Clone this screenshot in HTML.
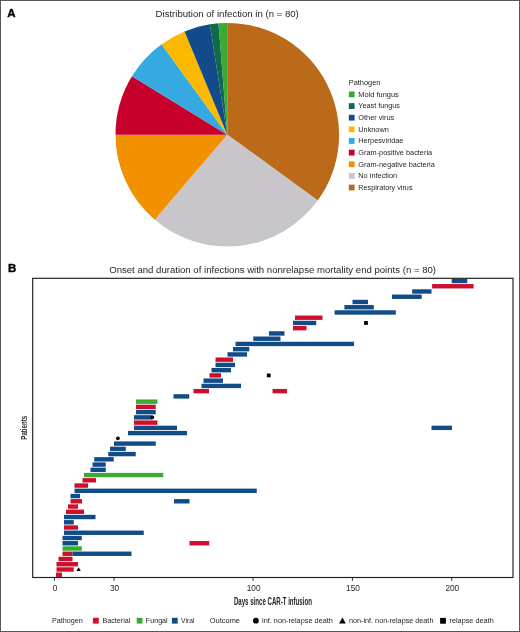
<!DOCTYPE html>
<html><head><meta charset="utf-8"><style>
html,body{margin:0;padding:0;background:#fff;width:520px;height:632px;overflow:hidden;}
svg{display:block;font-family:"Liberation Sans",sans-serif;will-change:transform;}
</style></head><body>
<svg width="520" height="632" viewBox="0 0 520 632" font-family="Liberation Sans, sans-serif">
<rect x="0" y="0" width="520" height="632" fill="#fff"/>
<text x="7.2" y="17" font-size="11.5" font-weight="bold" fill="#000" stroke="#000" stroke-width="0.35">A</text>
<text x="155.6" y="17.1" font-size="9.7" fill="#1f1f1f" textLength="143.2" lengthAdjust="spacingAndGlyphs">Distribution of infection in (n = 80)</text>
<path d="M227.30,134.70 L227.30,22.90 A111.8,111.8 0 0 1 317.75,200.41 Z" fill="#BA6A18"/>
<path d="M227.30,134.70 L317.75,200.41 A111.8,111.8 0 0 1 154.69,219.71 Z" fill="#C8C6CB"/>
<path d="M227.30,134.70 L154.69,219.71 A111.8,111.8 0 0 1 115.50,134.70 Z" fill="#F29100"/>
<path d="M227.30,134.70 L115.50,134.70 A111.8,111.8 0 0 1 131.97,76.28 Z" fill="#C6002B"/>
<path d="M227.30,134.70 L131.97,76.28 A111.8,111.8 0 0 1 161.59,44.25 Z" fill="#36A9E1"/>
<path d="M227.30,134.70 L161.59,44.25 A111.8,111.8 0 0 1 184.52,31.41 Z" fill="#FBBA00"/>
<path d="M227.30,134.70 L184.52,31.41 A111.8,111.8 0 0 1 209.81,24.28 Z" fill="#134A8A"/>
<path d="M227.30,134.70 L209.81,24.28 A111.8,111.8 0 0 1 218.53,23.24 Z" fill="#0E6A4C"/>
<path d="M227.30,134.70 L218.53,23.24 A111.8,111.8 0 0 1 227.30,22.90 Z" fill="#3AAA35"/>
<text x="348.7" y="85.2" font-size="7.6" fill="#1f1f1f" textLength="31.7" lengthAdjust="spacingAndGlyphs">Pathogen</text>
<rect x="348.8" y="91.50" width="5.8" height="5.8" fill="#3AAA35"/>
<text x="358.3" y="96.80" font-size="7.6" fill="#1f1f1f" textLength="40.5" lengthAdjust="spacingAndGlyphs">Mold fungus</text>
<rect x="348.8" y="103.14" width="5.8" height="5.8" fill="#0E6A4C"/>
<text x="358.3" y="108.44" font-size="7.6" fill="#1f1f1f" textLength="41.7" lengthAdjust="spacingAndGlyphs">Yeast fungus</text>
<rect x="348.8" y="114.78" width="5.8" height="5.8" fill="#134A8A"/>
<text x="358.3" y="120.08" font-size="7.6" fill="#1f1f1f" textLength="35.9" lengthAdjust="spacingAndGlyphs">Other virus</text>
<rect x="348.8" y="126.42" width="5.8" height="5.8" fill="#FBBA00"/>
<text x="358.3" y="131.72" font-size="7.6" fill="#1f1f1f" textLength="30.5" lengthAdjust="spacingAndGlyphs">Unknown</text>
<rect x="348.8" y="138.06" width="5.8" height="5.8" fill="#36A9E1"/>
<text x="358.3" y="143.36" font-size="7.6" fill="#1f1f1f" textLength="45.1" lengthAdjust="spacingAndGlyphs">Herpesviridae</text>
<rect x="348.8" y="149.70" width="5.8" height="5.8" fill="#C6002B"/>
<text x="358.3" y="155.00" font-size="7.6" fill="#1f1f1f" textLength="73.8" lengthAdjust="spacingAndGlyphs">Gram-positive bacteria</text>
<rect x="348.8" y="161.34" width="5.8" height="5.8" fill="#F29100"/>
<text x="358.3" y="166.64" font-size="7.6" fill="#1f1f1f" textLength="76.5" lengthAdjust="spacingAndGlyphs">Gram-negative bacteria</text>
<rect x="348.8" y="172.98" width="5.8" height="5.8" fill="#C8C6CB"/>
<text x="358.3" y="178.28" font-size="7.6" fill="#1f1f1f" textLength="38.9" lengthAdjust="spacingAndGlyphs">No infection</text>
<rect x="348.8" y="184.62" width="5.8" height="5.8" fill="#BA6A18"/>
<text x="358.3" y="189.92" font-size="7.6" fill="#1f1f1f" textLength="54.2" lengthAdjust="spacingAndGlyphs">Respiratory virus</text>
<text x="7.9" y="272.2" font-size="11.5" font-weight="bold" fill="#000" stroke="#000" stroke-width="0.35">B</text>
<text x="109.2" y="273" font-size="9.7" fill="#1f1f1f" textLength="326.8" lengthAdjust="spacingAndGlyphs">Onset and duration of infections with nonrelapse mortality end points (n = 80)</text>
<rect x="451.70" y="278.80" width="15.60" height="4.4" fill="#124C87"/>
<rect x="432.10" y="284.05" width="41.50" height="4.4" fill="#CE0E2D"/>
<rect x="412.20" y="289.29" width="19.30" height="4.4" fill="#124C87"/>
<rect x="392.00" y="294.54" width="29.70" height="4.4" fill="#124C87"/>
<rect x="352.50" y="299.78" width="15.50" height="4.4" fill="#124C87"/>
<rect x="344.40" y="305.03" width="29.40" height="4.4" fill="#124C87"/>
<rect x="334.60" y="310.27" width="61.20" height="4.4" fill="#124C87"/>
<rect x="295.00" y="315.51" width="27.50" height="4.4" fill="#CE0E2D"/>
<rect x="293.00" y="320.76" width="23.25" height="4.4" fill="#124C87"/>
<rect x="364.10" y="321.06" width="3.8" height="3.8" fill="#000"/>
<rect x="293.00" y="326.00" width="13.50" height="4.4" fill="#CE0E2D"/>
<rect x="269.00" y="331.25" width="15.50" height="4.4" fill="#124C87"/>
<rect x="253.25" y="336.50" width="27.25" height="4.4" fill="#124C87"/>
<rect x="235.50" y="341.74" width="118.50" height="4.4" fill="#124C87"/>
<rect x="233.00" y="346.99" width="16.25" height="4.4" fill="#124C87"/>
<rect x="227.50" y="352.23" width="19.50" height="4.4" fill="#124C87"/>
<rect x="215.50" y="357.48" width="17.50" height="4.4" fill="#CE0E2D"/>
<rect x="215.50" y="362.72" width="19.50" height="4.4" fill="#124C87"/>
<rect x="211.50" y="367.97" width="19.50" height="4.4" fill="#124C87"/>
<rect x="209.50" y="373.21" width="11.50" height="4.4" fill="#CE0E2D"/>
<rect x="266.85" y="373.51" width="3.8" height="3.8" fill="#000"/>
<rect x="203.50" y="378.46" width="19.50" height="4.4" fill="#124C87"/>
<rect x="201.50" y="383.70" width="39.50" height="4.4" fill="#124C87"/>
<rect x="193.50" y="388.94" width="15.50" height="4.4" fill="#CE0E2D"/>
<rect x="272.50" y="388.94" width="14.50" height="4.4" fill="#CE0E2D"/>
<rect x="173.50" y="394.19" width="15.75" height="4.4" fill="#124C87"/>
<rect x="136.00" y="399.44" width="21.50" height="4.4" fill="#3AAA35"/>
<rect x="136.00" y="404.68" width="19.75" height="4.4" fill="#CE0E2D"/>
<rect x="136.00" y="409.93" width="19.75" height="4.4" fill="#124C87"/>
<rect x="134.00" y="415.17" width="18.50" height="4.4" fill="#124C87"/>
<circle cx="152.30" cy="417.37" r="1.9" fill="#000"/>
<rect x="134.00" y="420.42" width="23.50" height="4.4" fill="#CE0E2D"/>
<rect x="134.00" y="425.66" width="43.00" height="4.4" fill="#124C87"/>
<rect x="431.50" y="425.66" width="20.50" height="4.4" fill="#124C87"/>
<rect x="128.00" y="430.90" width="59.00" height="4.4" fill="#124C87"/>
<circle cx="117.90" cy="438.35" r="1.9" fill="#000"/>
<rect x="114.00" y="441.39" width="41.75" height="4.4" fill="#124C87"/>
<rect x="110.00" y="446.64" width="15.75" height="4.4" fill="#124C87"/>
<rect x="108.25" y="451.88" width="27.50" height="4.4" fill="#124C87"/>
<rect x="94.25" y="457.13" width="19.50" height="4.4" fill="#124C87"/>
<rect x="92.50" y="462.38" width="13.25" height="4.4" fill="#124C87"/>
<rect x="90.50" y="467.62" width="15.25" height="4.4" fill="#124C87"/>
<rect x="84.00" y="472.87" width="79.25" height="4.4" fill="#3AAA35"/>
<rect x="82.50" y="478.11" width="13.50" height="4.4" fill="#CE0E2D"/>
<rect x="74.50" y="483.36" width="13.50" height="4.4" fill="#CE0E2D"/>
<rect x="74.50" y="488.60" width="182.25" height="4.4" fill="#124C87"/>
<rect x="70.50" y="493.85" width="9.50" height="4.4" fill="#124C87"/>
<rect x="70.50" y="499.09" width="11.50" height="4.4" fill="#CE0E2D"/>
<rect x="174.00" y="499.09" width="15.50" height="4.4" fill="#124C87"/>
<rect x="68.00" y="504.34" width="10.00" height="4.4" fill="#CE0E2D"/>
<rect x="66.00" y="509.58" width="18.00" height="4.4" fill="#CE0E2D"/>
<rect x="64.00" y="514.83" width="31.50" height="4.4" fill="#124C87"/>
<rect x="64.00" y="520.07" width="9.75" height="4.4" fill="#124C87"/>
<rect x="64.00" y="525.32" width="14.00" height="4.4" fill="#CE0E2D"/>
<rect x="64.00" y="530.56" width="79.75" height="4.4" fill="#124C87"/>
<rect x="62.50" y="535.81" width="19.25" height="4.4" fill="#124C87"/>
<rect x="62.50" y="541.05" width="15.50" height="4.4" fill="#124C87"/>
<rect x="189.50" y="541.05" width="19.75" height="4.4" fill="#CE0E2D"/>
<rect x="62.50" y="546.30" width="19.25" height="4.4" fill="#3AAA35"/>
<rect x="62.50" y="551.54" width="10.00" height="4.4" fill="#CE0E2D"/>
<rect x="72.50" y="551.54" width="59.00" height="4.4" fill="#124C87"/>
<rect x="58.50" y="556.79" width="14.00" height="4.4" fill="#CE0E2D"/>
<rect x="56.50" y="562.03" width="21.50" height="4.4" fill="#CE0E2D"/>
<rect x="56.50" y="567.28" width="17.25" height="4.4" fill="#CE0E2D"/>
<path d="M78.60,567.28 L80.80,571.08 L76.40,571.08 Z" fill="#000"/>
<rect x="56.00" y="572.52" width="6.00" height="4.4" fill="#CE0E2D"/>
<rect x="32.7" y="278.3" width="480.3" height="299.2" fill="none" stroke="#1e1e1e" stroke-width="1.15"/>
<line x1="54.40" y1="577.5" x2="54.40" y2="580.8" stroke="#2a2a2a" stroke-width="1"/>
<text x="55.00" y="590.9" font-size="8.3" fill="#1f1f1f" text-anchor="middle">0</text>
<line x1="114.00" y1="577.5" x2="114.00" y2="580.8" stroke="#2a2a2a" stroke-width="1"/>
<text x="114.59" y="590.9" font-size="8.3" fill="#1f1f1f" text-anchor="middle">30</text>
<line x1="253.05" y1="577.5" x2="253.05" y2="580.8" stroke="#2a2a2a" stroke-width="1"/>
<text x="253.65" y="590.9" font-size="8.3" fill="#1f1f1f" text-anchor="middle">100</text>
<line x1="352.37" y1="577.5" x2="352.37" y2="580.8" stroke="#2a2a2a" stroke-width="1"/>
<text x="352.97" y="590.9" font-size="8.3" fill="#1f1f1f" text-anchor="middle">150</text>
<line x1="451.70" y1="577.5" x2="451.70" y2="580.8" stroke="#2a2a2a" stroke-width="1"/>
<text x="452.30" y="590.9" font-size="8.3" fill="#1f1f1f" text-anchor="middle">200</text>
<text x="233.9" y="604.7" font-size="10" font-weight="bold" fill="#222" textLength="78.0" lengthAdjust="spacingAndGlyphs">Days since CAR-T infusion</text>
<text transform="translate(27.1,439.7) rotate(-90)" x="0" y="0" font-size="9" font-weight="bold" fill="#222" textLength="23.9" lengthAdjust="spacingAndGlyphs">Patients</text>
<text x="51.9" y="623.2" font-size="7.5" fill="#1f1f1f" textLength="30.8" lengthAdjust="spacingAndGlyphs">Pathogen</text>
<rect x="92.9" y="617.8" width="5.8" height="5.8" fill="#CE0E2D"/>
<text x="102.5" y="623.2" font-size="7.5" fill="#1f1f1f" textLength="27.9" lengthAdjust="spacingAndGlyphs">Bacterial</text>
<rect x="136.7" y="617.8" width="5.8" height="5.8" fill="#3AAA35"/>
<text x="145.8" y="623.2" font-size="7.5" fill="#1f1f1f" textLength="21.9" lengthAdjust="spacingAndGlyphs">Fungal</text>
<rect x="171.9" y="617.8" width="5.8" height="5.8" fill="#124C87"/>
<text x="181" y="623.2" font-size="7.5" fill="#1f1f1f" textLength="13.4" lengthAdjust="spacingAndGlyphs">Viral</text>
<text x="209.8" y="623.2" font-size="7.5" fill="#1f1f1f" textLength="30.2" lengthAdjust="spacingAndGlyphs">Outcome</text>
<circle cx="255.9" cy="620.7" r="2.9" fill="#000"/>
<text x="262" y="623.2" font-size="7.5" fill="#1f1f1f" textLength="70.9" lengthAdjust="spacingAndGlyphs">inf. non-relapse death</text>
<path d="M342.4,617.5 L345.8,623.4 L339,623.4 Z" fill="#000"/>
<text x="349" y="623.2" font-size="7.5" fill="#1f1f1f" textLength="84.4" lengthAdjust="spacingAndGlyphs">non-inf. non-relapse death</text>
<rect x="440.1" y="617.9" width="5.8" height="5.8" fill="#000"/>
<text x="449.5" y="623.2" font-size="7.5" fill="#1f1f1f" textLength="44.2" lengthAdjust="spacingAndGlyphs">relapse death</text>
<rect x="0.5" y="0.5" width="519" height="631" fill="none" stroke="#575757" stroke-width="1"/>
</svg>
</body></html>
